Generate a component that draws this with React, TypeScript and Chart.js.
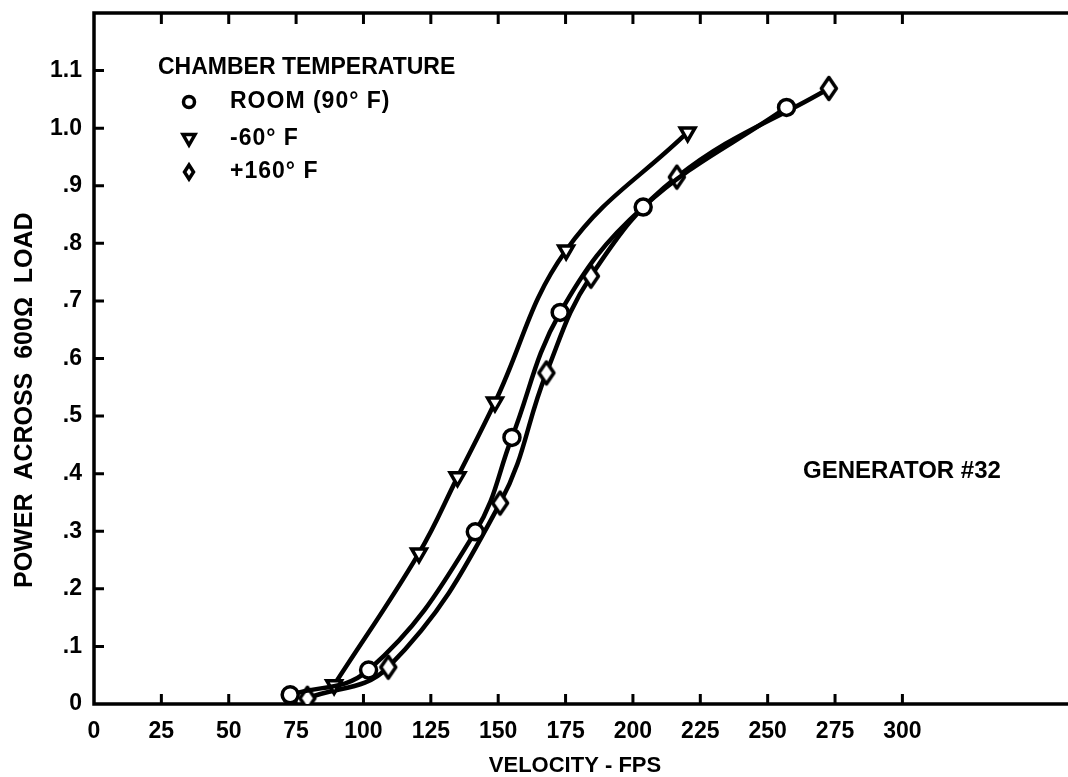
import React, { useEffect, useRef } from 'react';
import { Chart, registerables } from 'chart.js';

Chart.register(...registerables);

// ---- data ----
const roomVelocity = [72.8, 101.9, 141.5, 155.1, 173.0, 203.8, 257.0];
const roomPower = [0.016, 0.059, 0.299, 0.463, 0.68, 0.863, 1.036];

const coldVelocity = [89.1, 120.6, 134.9, 148.8, 175.2, 220.3];
const coldPower = [0.033, 0.262, 0.394, 0.524, 0.788, 0.993];

const hotVelocity = [79.2, 109.2, 150.7, 167.9, 184.4, 216.3, 272.7];
const hotPower = [0.01, 0.064, 0.349, 0.575, 0.743, 0.915, 1.069];

const seriesLabels = ['ROOM (90° F)', '-60° F', '+160° F'];
const legendTitle = 'CHAMBER TEMPERATURE';
const noteText = 'GENERATOR #32';

const xTickValues = [0, 25, 50, 75, 100, 125, 150, 175, 200, 225, 250, 275, 300];
const xTickLabels = ['0', '25', '50', '75', '100', '125', '150', '175', '200', '225', '250', '275', '300'];
const yTickValues = [0, 0.1, 0.2, 0.3, 0.4, 0.5, 0.6, 0.7, 0.8, 0.9, 1.0, 1.1];
const yTickLabels = ['0', '.1', '.2', '.3', '.4', '.5', '.6', '.7', '.8', '.9', '1.0', '1.1'];

const xTitle = 'VELOCITY - FPS';
const yTitle = 'POWER  ACROSS  600Ω  LOAD';

const FONT = "'Liberation Sans', Arial, sans-serif";

function pairs(xs: number[], ys: number[]) {
  return xs.map((x, i) => ({ x, y: ys[i] }));
}

function makeDiamond(w: number, h: number, lw: number) {
  const c = document.createElement('canvas');
  c.width = w + lw * 2;
  c.height = h + lw * 2;
  const g = c.getContext('2d')!;
  const cx = c.width / 2;
  const cy = c.height / 2;
  g.beginPath();
  g.moveTo(cx, cy - h / 2);
  g.lineTo(cx + w / 2, cy);
  g.lineTo(cx, cy + h / 2);
  g.lineTo(cx - w / 2, cy);
  g.closePath();
  g.fillStyle = '#fff';
  g.fill();
  g.lineWidth = lw;
  g.lineJoin = 'round';
  g.strokeStyle = '#000';
  g.stroke();
  return c;
}

const framePlugin = {
  id: 'frame',
  beforeDatasetsDraw(chart: any) {
    const { ctx, chartArea } = chart;
    const { left, top, bottom } = chartArea;
    const right = chart.width;
    const xs = chart.scales.x;
    const ys = chart.scales.y;
    ctx.save();
    ctx.strokeStyle = '#000';
    ctx.lineWidth = 3.5;
    ctx.lineJoin = 'miter';
    ctx.beginPath();
    ctx.moveTo(right, top);
    ctx.lineTo(left, top);
    ctx.lineTo(left, bottom);
    ctx.lineTo(right, bottom);
    ctx.stroke();
    ctx.lineWidth = 3;
    ctx.beginPath();
    xTickValues.forEach((v) => {
      if (v <= 0) return;
      const px = xs.getPixelForValue(v);
      ctx.moveTo(px, bottom);
      ctx.lineTo(px, bottom - 10);
      ctx.moveTo(px, top);
      ctx.lineTo(px, top + 11);
    });
    yTickValues.forEach((v) => {
      if (v <= 0) return;
      const py = ys.getPixelForValue(v);
      ctx.moveTo(left, py);
      ctx.lineTo(left + 10, py);
    });
    ctx.stroke();
    ctx.restore();
  },
};

function drawLegendMarker(ctx: CanvasRenderingContext2D, kind: number, x: number, y: number) {
  ctx.save();
  ctx.lineWidth = 3.5;
  ctx.strokeStyle = '#000';
  ctx.fillStyle = '#fff';
  ctx.beginPath();
  if (kind === 0) {
    ctx.arc(x, y, 5.5, 0, Math.PI * 2);
  } else if (kind === 1) {
    ctx.moveTo(x - 6, y - 4.5);
    ctx.lineTo(x + 6, y - 4.5);
    ctx.lineTo(x, y + 6);
    ctx.closePath();
  } else {
    ctx.moveTo(x, y - 7);
    ctx.lineTo(x + 4.5, y);
    ctx.lineTo(x, y + 7);
    ctx.lineTo(x - 4.5, y);
    ctx.closePath();
  }
  ctx.fill();
  ctx.stroke();
  ctx.restore();
}

const legendPlugin = {
  id: 'innerLegend',
  afterDatasetsDraw(chart: any) {
    const { ctx, chartArea } = chart;
    const { left, top } = chartArea;
    ctx.save();
    ctx.fillStyle = '#000';
    ctx.textBaseline = 'middle';
    ctx.textAlign = 'left';
    ctx.font = `bold 23px ${FONT}`;
    ctx.fillText(legendTitle, left + 64, top + 55);
    ctx.font = `bold 23px ${FONT}`;
    (ctx as any).letterSpacing = '1px';
    const rowY = [top + 89, top + 126, top + 159];
    chart.data.datasets.forEach((ds: any, i: number) => {
      drawLegendMarker(ctx, i, left + 95, rowY[i]);
      ctx.fillStyle = '#000';
      ctx.fillText(ds.label, left + 136, rowY[i]);
    });
    (ctx as any).letterSpacing = '0px';
    ctx.font = `bold 24px ${FONT}`;
    ctx.fillText(noteText, left + 709, top + 458);
    ctx.restore();
  },
};

export default function App() {
  const ref = useRef<HTMLCanvasElement>(null);

  useEffect(() => {
    const canvas = ref.current!;
    const diamond = makeDiamond(15, 22, 3.5);
    const lineCommon = {
      borderColor: '#000',
      borderWidth: 4.5,
      pointBackgroundColor: '#fff',
      pointBorderColor: '#000',
      pointBorderWidth: 3.5,
      showLine: true,
      fill: false,
      tension: 0.4,
    };
    const chart = new Chart(canvas, {
      type: 'line',
      data: {
        datasets: [
          {
            ...lineCommon,
            label: seriesLabels[0],
            data: pairs(roomVelocity, roomPower),
            pointStyle: 'circle',
            pointRadius: 8,
          },
          {
            ...lineCommon,
            label: seriesLabels[1],
            data: pairs(coldVelocity, coldPower),
            pointStyle: 'triangle',
            pointRotation: 180,
            pointRadius: 8.5,
          },
          {
            ...lineCommon,
            label: seriesLabels[2],
            data: pairs(hotVelocity, hotPower),
            pointStyle: diamond as any,
            pointRadius: 8,
          },
        ],
      },
      options: {
        responsive: false,
        animation: false,
        devicePixelRatio: 1,
        layout: { padding: { top: 13, right: 0, left: 0, bottom: 0 } },
        plugins: {
          legend: { display: false },
          tooltip: { enabled: false },
        },
        scales: {
          x: {
            type: 'linear',
            min: 0,
            max: 357,
            border: { display: false },
            grid: { display: false, drawTicks: false },
            ticks: {
              stepSize: 25,
              autoSkip: false,
              maxRotation: 0,
              padding: 14,
              color: '#000',
              font: { family: FONT, size: 23, weight: 'bold' },
              callback: (value: any) => {
                const i = xTickValues.indexOf(Number(value));
                return i >= 0 ? xTickLabels[i] : '';
              },
            },
            title: {
              display: true,
              text: xTitle,
              color: '#000',
              font: { family: FONT, size: 22, weight: 'bold', lineHeight: 1 },
              padding: { top: 0, bottom: 0 },
            },
            afterFit: (scale: any) => {
              scale.height = 73;
              scale.paddingLeft = 0;
              scale.paddingRight = 0;
            },
          },
          y: {
            type: 'linear',
            min: 0,
            max: 1.2,
            border: { display: false },
            grid: { display: false, drawTicks: false },
            ticks: {
              stepSize: 0.1,
              autoSkip: false,
              padding: 12,
              color: '#000',
              font: { family: FONT, size: 23, weight: 'bold' },
              callback: (value: any) => {
                const i = yTickValues.findIndex((v) => Math.abs(v - Number(value)) < 1e-6);
                return i >= 0 ? yTickLabels[i] : '';
              },
            },
            title: {
              display: true,
              text: yTitle + '\u00A0'.repeat(12),
              color: '#000',
              font: { family: FONT, size: 25, weight: 'bold', lineHeight: 1 },
              padding: { top: 13, bottom: 0 },
            },
            afterFit: (scale: any) => {
              scale.width = 94;
              scale.paddingTop = 0;
              scale.paddingBottom = 0;
            },
          },
        },
      },
      plugins: [framePlugin, legendPlugin],
    });
    return () => chart.destroy();
  }, []);

  return (
    <div style={{ position: 'absolute', left: 0, top: 0, width: 1068, height: 777, background: '#fff' }}>
      <canvas ref={ref} width={1068} height={777} style={{ display: 'block' }} />
    </div>
  );
}
